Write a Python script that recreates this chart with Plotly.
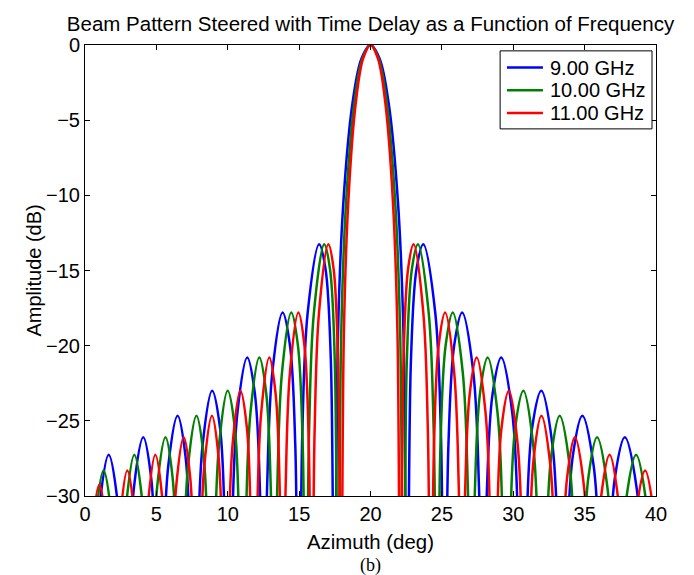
import plotly.graph_objects as go

# Beam pattern cuts (azimuth in deg, amplitude in dB).
# Nulls are deep below the -30 dB floor and get clipped by the axis range.
freq_labels = ["9.00 GHz", "10.00 GHz", "11.00 GHz"]
line_colors = ["#0000ff", "#008000", "#ff0000"]

az_9ghz = [
    0.437, 0.677, 1.036, 1.659, 2.234, 2.593, 2.833,
    3.073, 3.433, 4.082, 4.634, 4.994, 5.234,
    5.475, 5.837, 6.487, 7.042, 7.403, 7.644,
    7.886, 8.250, 8.905, 9.462, 9.826, 10.068,
    10.312, 10.679, 11.363, 11.900, 12.267, 12.511,
    12.757, 13.127, 13.842, 14.360, 14.730, 14.976,
    15.226, 15.600, 16.399, 16.848, 17.222, 17.472,
    17.723, 18.100, 18.731, 19.365, 20.0, 20.639, 21.280, 21.924, 22.312, 22.571,
    22.833, 23.226, 23.698, 24.536, 24.929, 25.191,
    25.459, 25.860, 26.422, 27.198, 27.599, 27.867,
    28.142, 28.554, 29.158, 29.927, 30.338, 30.613,
    30.896, 31.319, 31.969, 32.732, 33.156, 33.438,
    33.730, 34.168, 34.840, 35.629, 36.067, 36.359,
    36.663, 37.118, 37.816, 38.635, 39.091, 39.394,
]
db_9ghz = [
    -45, -37.5, -30.5, -27.25, -30.0, -37.25, -45,
    -36.6, -29.4, -26.1, -28.8, -36.1, -45,
    -35.2, -27.96, -24.66, -27.36, -34.7, -45,
    -33.9, -26.5, -23.0, -25.5, -33.2, -45,
    -31.96, -24.43, -20.79, -23.19, -29.97, -45,
    -29.4, -21.74, -17.8, -20.0, -26.6, -45,
    -25.7, -17.81, -13.26, -14.89, -20.97, -45,
    -19.2, -10.45, -3.92, -0.91, 0, -0.91, -3.92, -10.45, -19.2, -45,
    -20.97, -14.89, -13.26, -17.81, -25.7, -45,
    -26.6, -20.0, -17.8, -21.74, -29.4, -45,
    -29.97, -23.19, -20.79, -24.43, -31.96, -45,
    -33.2, -25.5, -23.0, -26.5, -33.9, -45,
    -34.7, -27.36, -24.66, -27.96, -35.2, -45,
    -36.1, -28.8, -26.1, -29.4, -36.6, -45,
]

az_10ghz = [
    0.197, 0.413, 0.736, 1.297, 1.814, 2.137, 2.353,
    2.569, 2.893, 3.455, 3.973, 4.297, 4.513,
    4.730, 5.055, 5.639, 6.138, 6.462, 6.679,
    6.897, 7.223, 7.810, 8.310, 8.637, 8.854,
    9.073, 9.401, 9.992, 10.496, 10.824, 11.043,
    11.264, 11.594, 12.212, 12.697, 13.028, 13.248,
    13.471, 13.804, 14.450, 14.917, 15.251, 15.473,
    15.698, 16.036, 16.756, 17.161, 17.498, 17.723,
    17.949, 18.289, 18.858, 19.428, 20.0, 20.575, 21.152, 21.731, 22.079, 22.312,
    22.547, 22.900, 23.323, 24.075, 24.428, 24.663,
    24.902, 25.262, 25.764, 26.459, 26.818, 27.057,
    27.302, 27.669, 28.208, 28.894, 29.261, 29.506,
    29.757, 30.133, 30.710, 31.387, 31.763, 32.014,
    32.272, 32.659, 33.252, 33.949, 34.336, 34.594,
    34.860, 35.260, 35.872, 36.591, 36.990, 37.256,
    37.532, 37.946, 38.607, 39.325, 39.738, 40.014,
]
db_10ghz = [
    -45, -38.6, -31.6, -28.3, -31.0, -38.3, -45,
    -37.5, -30.5, -27.25, -30.0, -37.25, -45,
    -36.6, -29.4, -26.1, -28.8, -36.1, -45,
    -35.2, -27.96, -24.66, -27.36, -34.7, -45,
    -33.9, -26.5, -23.0, -25.5, -33.2, -45,
    -31.96, -24.43, -20.79, -23.19, -29.97, -45,
    -29.4, -21.74, -17.8, -20.0, -26.6, -45,
    -25.7, -17.81, -13.26, -14.89, -20.97, -45,
    -19.2, -10.45, -3.92, -0.91, 0, -0.91, -3.92, -10.45, -19.2, -45,
    -20.97, -14.89, -13.26, -17.81, -25.7, -45,
    -26.6, -20.0, -17.8, -21.74, -29.4, -45,
    -29.97, -23.19, -20.79, -24.43, -31.96, -45,
    -33.2, -25.5, -23.0, -26.5, -33.9, -45,
    -34.7, -27.36, -24.66, -27.96, -35.2, -45,
    -36.1, -28.8, -26.1, -29.4, -36.6, -45,
    -37.25, -30.0, -27.25, -30.5, -37.5, -45,
]

az_11ghz = [
    0.001, 0.197, 0.491, 1.001, 1.471, 1.765, 1.961,
    2.157, 2.452, 2.962, 3.433, 3.727, 3.923,
    4.120, 4.415, 4.926, 5.398, 5.693, 5.890,
    6.087, 6.384, 6.916, 7.371, 7.667, 7.864,
    8.062, 8.360, 8.895, 9.351, 9.649, 9.847,
    10.047, 10.346, 10.885, 11.344, 11.643, 11.843,
    12.044, 12.346, 12.908, 13.351, 13.652, 13.853,
    14.056, 14.360, 14.948, 15.373, 15.677, 15.880,
    16.085, 16.392, 17.047, 17.416, 17.723, 17.928,
    18.134, 18.444, 18.961, 19.480, 20.0, 20.523, 21.046, 21.573, 21.889, 22.100,
    22.313, 22.633, 23.017, 23.699, 24.019, 24.232,
    24.449, 24.774, 25.229, 25.858, 26.183, 26.400,
    26.621, 26.952, 27.438, 28.057, 28.388, 28.609,
    28.835, 29.173, 29.692, 30.302, 30.640, 30.866,
    31.097, 31.444, 31.975, 32.599, 32.946, 33.177,
    33.415, 33.771, 34.317, 34.958, 35.315, 35.552,
    35.797, 36.163, 36.750, 37.386, 37.753, 37.997,
    38.250, 38.630, 39.238, 39.897, 40.277, 40.530,
]
db_11ghz = [
    -45, -39.6, -32.4, -29.25, -31.9, -39.25, -45,
    -38.6, -31.6, -28.3, -31.0, -38.3, -45,
    -37.5, -30.5, -27.25, -30.0, -37.25, -45,
    -36.6, -29.4, -26.1, -28.8, -36.1, -45,
    -35.2, -27.96, -24.66, -27.36, -34.7, -45,
    -33.9, -26.5, -23.0, -25.5, -33.2, -45,
    -31.96, -24.43, -20.79, -23.19, -29.97, -45,
    -29.4, -21.74, -17.8, -20.0, -26.6, -45,
    -25.7, -17.81, -13.26, -14.89, -20.97, -45,
    -19.2, -10.45, -3.92, -0.91, 0, -0.91, -3.92, -10.45, -19.2, -45,
    -20.97, -14.89, -13.26, -17.81, -25.7, -45,
    -26.6, -20.0, -17.8, -21.74, -29.4, -45,
    -29.97, -23.19, -20.79, -24.43, -31.96, -45,
    -33.2, -25.5, -23.0, -26.5, -33.9, -45,
    -34.7, -27.36, -24.66, -27.96, -35.2, -45,
    -36.1, -28.8, -26.1, -29.4, -36.6, -45,
    -37.25, -30.0, -27.25, -30.5, -37.5, -45,
    -38.3, -31.0, -28.3, -31.6, -38.6, -45,
]

series = [(az_9ghz, db_9ghz), (az_10ghz, db_10ghz), (az_11ghz, db_11ghz)]

font_family = "Liberation Sans, Arial, Helvetica, sans-serif"

fig = go.Figure()
for (az, db), name, color in zip(series, freq_labels, line_colors):
    fig.add_trace(
        go.Scatter(
            x=az,
            y=db,
            mode="lines",
            name=name,
            showlegend=False,
            line=dict(color=color, width=2.5, shape="spline", smoothing=1.0),
        )
    )

axis_style = dict(
    showline=True,
    linecolor="black",
    linewidth=1,
    mirror="ticks",
    ticks="inside",
    ticklen=5,
    tickcolor="black",
    showgrid=False,
    zeroline=False,
    tickfont=dict(size=20, color="black"),
)

fig.update_xaxes(range=[0, 40], dtick=5, tick0=0, **axis_style)
fig.update_yaxes(range=[-30, 0], dtick=5, tick0=0, **axis_style)

# MATLAB-style legend box in the top right corner (paper coordinates)
box_x0, box_x1, box_y0, box_y1 = 0.727, 0.993, 0.814, 0.987
row_y = [0.950, 0.8995, 0.849]
shapes = [
    dict(type="rect", xref="paper", yref="paper", x0=box_x0, x1=box_x1,
         y0=box_y0, y1=box_y1, line=dict(color="black", width=1),
         fillcolor="white", layer="above")
]
annotations = []
for name, color, ry in zip(freq_labels, line_colors, row_y):
    shapes.append(
        dict(type="line", xref="paper", yref="paper", x0=0.739, x1=0.802,
             y0=ry, y1=ry, line=dict(color=color, width=2.5), layer="above")
    )
    annotations.append(
        dict(text=name, x=0.810, y=ry, xref="paper", yref="paper",
             xanchor="left", yanchor="middle", showarrow=False,
             font=dict(size=20))
    )

annotations += [
    dict(
        text="Azimuth (deg)", x=0.5, y=-0.102, xref="paper", yref="paper",
        xanchor="center", yanchor="middle", showarrow=False, font=dict(size=20.4),
    ),
    dict(
        text="Amplitude (dB)", x=-0.091, y=0.5, xref="paper", yref="paper",
        xanchor="center", yanchor="middle", textangle=-90, showarrow=False,
        font=dict(size=20),
    ),
    dict(
        text="(b)", x=0.5, y=-0.155, xref="paper", yref="paper",
        xanchor="center", yanchor="middle", showarrow=False,
        font=dict(size=18, family="Liberation Serif, Times New Roman, serif"),
    ),
]

fig.update_layout(
    width=694,
    height=575,
    margin=dict(l=77, r=46, t=37, b=87),
    paper_bgcolor="white",
    plot_bgcolor="white",
    font=dict(family=font_family, size=20, color="black"),
    title=dict(
        text="Beam Pattern Steered with Time Delay as a Function of Frequency",
        x=0.5,
        xref="paper",
        xanchor="center",
        y=1 - 16 / 575,
        yref="container",
        yanchor="middle",
        font=dict(size=20.5),
    ),
    shapes=shapes,
    annotations=annotations,
)

fig.write_html("out.html")
